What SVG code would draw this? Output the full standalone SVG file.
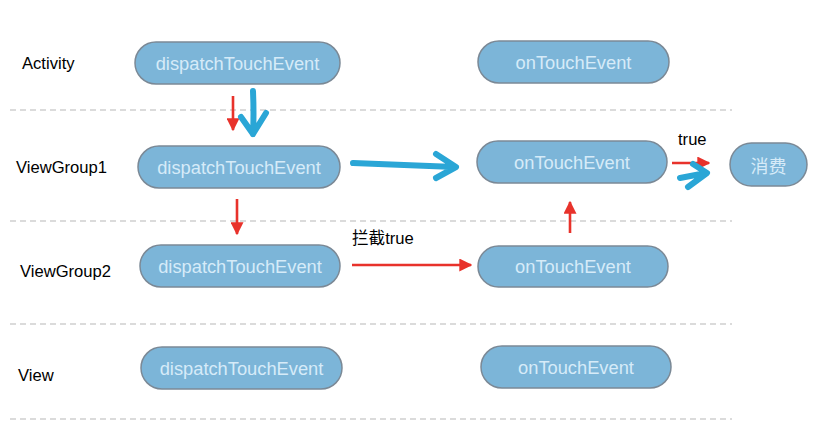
<svg xmlns="http://www.w3.org/2000/svg" width="813" height="434" viewBox="0 0 813 434">
<defs>
<style>
.n{fill:#7cb5d8;stroke:#7b8996;stroke-width:1.5}
.t{font-family:"Liberation Sans",Arial,sans-serif;font-size:18.3px;fill:#d6ebf8;text-anchor:middle;dominant-baseline:central}
.lb{font-family:"Liberation Sans",Arial,sans-serif;font-size:16.6px;fill:#000}
.d{stroke:#b8b8b8;stroke-width:1.2;stroke-dasharray:6 4;fill:none}
.r{stroke:#e8322b;stroke-width:2.6;fill:none}
.b{stroke:#2aa6d6;stroke-width:6;fill:none;stroke-linecap:round;stroke-linejoin:round}
</style>
<marker id="rh" viewBox="0 0 10 10" refX="9" refY="5" markerWidth="5" markerHeight="5" orient="auto" markerUnits="strokeWidth"><path d="M0,0 L10,5 L0,10 z" fill="#e8322b"/></marker>
</defs>
<rect width="813" height="434" fill="#fff"/>
<g id="lanes">
<line class="d" x1="10" y1="110" x2="732" y2="110"/>
<line class="d" x1="10" y1="221" x2="732" y2="221"/>
<line class="d" x1="10" y1="324" x2="732" y2="324"/>
<line class="d" x1="10" y1="419" x2="732" y2="419"/>
<text class="lb" x="22" y="69">Activity</text>
<text class="lb" x="16" y="173">ViewGroup1</text>
<text class="lb" x="20" y="277">ViewGroup2</text>
<text class="lb" x="18" y="381">View</text>
</g>
<g id="a_dispatch"><rect class="n" x="135" y="42" width="205" height="42" rx="21"/><text class="t" x="237.5" y="63">dispatchTouchEvent</text></g>
<g id="a_on"><rect class="n" x="478" y="41" width="191" height="42" rx="21"/><text class="t" x="573.5" y="62">onTouchEvent</text></g>
<g id="vg1_dispatch"><rect class="n" x="138" y="146" width="202" height="42" rx="21"/><text class="t" x="239" y="167">dispatchTouchEvent</text></g>
<g id="vg1_on"><rect class="n" x="477" y="141" width="190" height="42" rx="21"/><text class="t" x="572" y="162">onTouchEvent</text></g>
<g id="consume"><rect class="n" x="730" y="143" width="77" height="43" rx="21.5"/><text class="t" x="768.5" y="164.5" style="font-family:'Noto Sans CJK SC',sans-serif;font-size:18px">消费</text></g>
<g id="vg2_dispatch"><rect class="n" x="140" y="245" width="200" height="42" rx="21"/><text class="t" x="240" y="266">dispatchTouchEvent</text></g>
<g id="vg2_on"><rect class="n" x="478" y="246" width="190" height="41" rx="20.5"/><text class="t" x="573" y="266.5">onTouchEvent</text></g>
<g id="v_dispatch"><rect class="n" x="141" y="347" width="201" height="42" rx="21"/><text class="t" x="241.5" y="368">dispatchTouchEvent</text></g>
<g id="v_on"><rect class="n" x="481" y="346" width="190" height="42" rx="21"/><text class="t" x="576" y="367">onTouchEvent</text></g>
<g id="connectors">
<line class="r" x1="233" y1="96" x2="233" y2="130" marker-end="url(#rh)"/>
<path class="b" d="M253,91 Q254,115 253,134 M241,117 L253,134 L266,113"/>
<path class="b" d="M353,163 L455,167 M436,154 L456,167 L436,178"/>
<line class="r" x1="237" y1="199" x2="237" y2="234" marker-end="url(#rh)"/>
<line class="r" x1="352" y1="265" x2="471" y2="265" marker-end="url(#rh)"/>
<text class="lb" x="352" y="244" style="font-family:'Liberation Sans','Noto Sans CJK SC',sans-serif">拦截true</text>
<line class="r" x1="570" y1="233" x2="570" y2="202" marker-end="url(#rh)"/>
<text class="lb" x="678" y="145">true</text>
<line class="r" x1="672" y1="163" x2="709" y2="163" marker-end="url(#rh)"/>
<path class="b" d="M680,178 L706,173 M693,164 L707,173 L688,187"/>
</g>
</svg>
